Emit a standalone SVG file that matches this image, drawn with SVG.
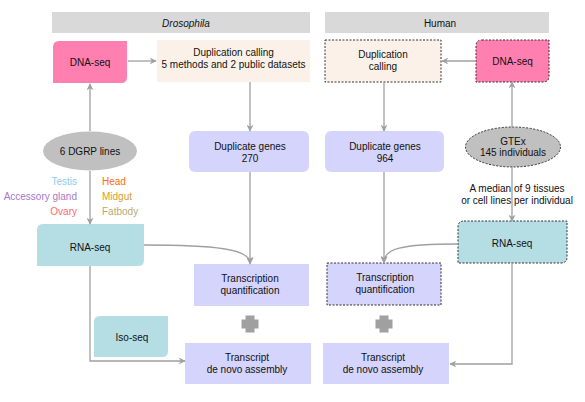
<svg xmlns="http://www.w3.org/2000/svg" width="585" height="402" viewBox="0 0 585 402">
<defs>
<marker id="ah" viewBox="0 0 10 10" refX="9" refY="5" markerWidth="7" markerHeight="7" orient="auto" markerUnits="userSpaceOnUse">
<path d="M0,0 L10,5 L0,10 L3,5 z" fill="#A0A0A0"/>
</marker>
<path id="plus" d="M-4.5,-8.5 H4.5 V-4.5 H8.5 V4.5 H4.5 V8.5 H-4.5 V4.5 H-8.5 V-4.5 H-4.5 Z"/>
</defs>
<style>
text{font-family:"Liberation Sans",Arial,Helvetica,sans-serif;font-size:10px;fill:#111;text-anchor:middle}
.hdr{fill:#D9D9D9}
.pink{fill:#FF80B0}
.beige{fill:#FCF1E8}
.lav{fill:#D4D4FC}
.cyan{fill:#B5DDE4}
.ell{fill:#C0C0C0}
.dash{stroke:#333;stroke-width:1;stroke-dasharray:2,1.5}
.conn path{fill:none;stroke:#A0A0A0;stroke-width:1.3;marker-end:url(#ah)}
.tl{font-size:10px}
</style>
<rect width="585" height="402" fill="#fff"/>
<g id="header-drosophila"><rect class="hdr" x="52" y="12" width="258" height="21"/><text x="186" y="26.5" font-style="italic">Drosophila</text></g>
<g id="header-human"><rect class="hdr" x="325" y="12" width="224" height="21"/><text x="440" y="26.5">Human</text></g>

<g id="d-dnaseq"><path class="pink" d="M59,41 H127 V77 Q127,83 121,83 H53 V47 Q53,41 59,41 Z"/><text x="90" y="65.5">DNA-seq</text></g>
<g id="d-dupcalling"><rect class="beige" x="157" y="40" width="153" height="42"/><text x="233.5" y="55.5">Duplication calling</text><text x="233.5" y="67.5">5 methods and 2 public datasets</text></g>
<g id="d-dgrp"><ellipse class="ell" cx="90" cy="151" rx="47" ry="19.5"/><text x="90" y="154.5">6 DGRP lines</text></g>
<g id="d-tissues">
<text x="77" y="185" text-anchor="end" style="text-anchor:end;fill:#8CCBEF">Testis</text>
<text x="77" y="200" style="text-anchor:end;fill:#A878CC">Accessory gland</text>
<text x="77" y="215" style="text-anchor:end;fill:#FF6B6B">Ovary</text>
<text x="102" y="185" style="text-anchor:start;fill:#FF6A10">Head</text>
<text x="102" y="200" style="text-anchor:start;fill:#D6A02A">Midgut</text>
<text x="102" y="215" style="text-anchor:start;fill:#B8AA6E">Fatbody</text>
</g>
<g id="d-dupgenes"><rect class="lav" x="189" y="131" width="120" height="41" rx="6"/><text x="250" y="149.5">Duplicate genes</text><text x="250" y="161.5">270</text></g>
<g id="d-rnaseq"><path class="cyan" d="M43,224 H144 V260 Q144,266 138,266 H37 V230 Q37,224 43,224 Z"/><text x="90" y="250.5">RNA-seq</text></g>
<g id="d-tq"><rect class="lav" x="194" y="264" width="115" height="42"/><text x="250" y="281.5">Transcription</text><text x="250" y="294">quantification</text></g>
<g id="d-plus"><use href="#plus" x="250" y="324" fill="#A0A0A0"/></g>
<g id="d-isoseq"><path class="cyan" d="M100,316 H168 V351 Q168,357 162,357 H94 V322 Q94,316 100,316 Z"/><text x="132" y="340.5">Iso-seq</text></g>
<g id="d-assembly"><rect class="lav" x="185" y="343" width="126" height="41"/><text x="247" y="360.5">Transcript</text><text x="247" y="372.5">de novo assembly</text></g>

<g id="h-dupcalling"><rect class="beige dash" x="325" y="40" width="116" height="42"/><text x="383" y="58">Duplication</text><text x="383" y="69.5">calling</text></g>
<g id="h-dnaseq"><path class="pink dash" d="M482,40 H549 V76 Q549,82 543,82 H476 V46 Q476,40 482,40 Z"/><text x="512.5" y="65">DNA-seq</text></g>
<g id="h-gtex"><ellipse class="ell dash" cx="513" cy="147" rx="47.5" ry="20"/><text x="513" y="144.5">GTEx</text><text x="513" y="156">145 individuals</text></g>
<g id="h-dupgenes"><rect class="lav" x="325" y="131" width="119" height="41" rx="6"/><text x="385" y="149.5">Duplicate genes</text><text x="385" y="161.5">964</text></g>
<g id="h-rnaseq"><path class="cyan dash" d="M464,221 H567 V257 Q567,263 561,263 H458 V227 Q458,221 464,221 Z"/><text x="512" y="246.5">RNA-seq</text></g>
<g id="h-tq"><rect class="lav dash" x="327" y="263" width="114" height="42"/><text x="385" y="280.5">Transcription</text><text x="385" y="292.5">quantification</text></g>
<g id="h-plus"><use href="#plus" x="384" y="324" fill="#A0A0A0"/></g>
<g id="h-assembly"><rect class="lav" x="323" y="343" width="126" height="41"/><text x="383" y="360.5">Transcript</text><text x="383" y="372.5">de novo assembly</text></g>

<g id="connectors" class="conn">
<path d="M128,61 H156"/>
<path d="M90,131 V84"/>
<path d="M90,171 V224"/>
<path d="M250,82 V131"/>
<path d="M250,172 V264"/>
<path d="M144,245 C215,245 250,249 250,263"/>
<path d="M90,266 V361 H185"/>
<path d="M476,61 H442"/>
<path d="M512,127 V82"/>
<path d="M512,167 V221"/>
<path d="M384,82 V131"/>
<path d="M384,172 V263"/>
<path d="M458,244 C400,244 384,249 384,262"/>
<path d="M512,263 V364 H450"/>
</g>
<g id="median-label"><text x="517" y="191.5">A median of 9 tissues</text><text x="517" y="203.5">or cell lines per individual</text></g>
</svg>
